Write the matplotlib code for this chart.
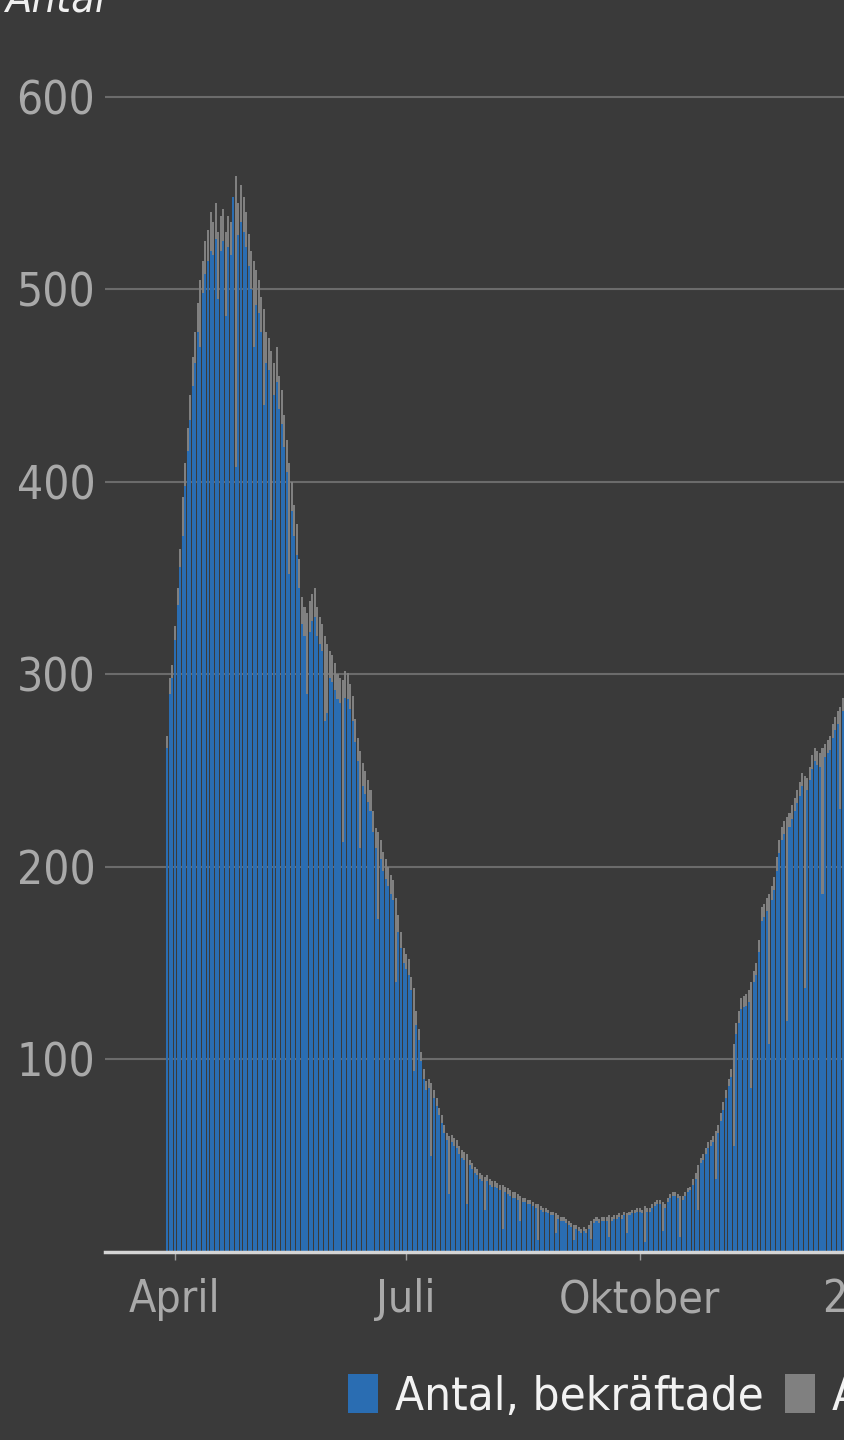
"""Daily counts, confirmed vs. remaining, dark theme bar chart.

Produces out.png (844x1440).
"""

import matplotlib
matplotlib.use("Agg")
import matplotlib.pyplot as plt
import matplotlib.dates as mdates
from matplotlib.patches import Patch
import pandas as pd

START_DATE = "2020-03-29"

# total per day (top of grey)
totalt = [
    268, 298, 305, 325, 345, 365, 392, 410, 428, 445,
    465, 478, 493, 505, 515, 525, 531, 540, 535, 545,
    530, 538, 542, 530, 538, 535, 548, 559, 545, 554,
    548, 540, 529, 520, 515, 510, 505, 496, 490, 478,
    475, 468, 462, 470, 455, 448, 435, 422, 410, 400,
    388, 378, 360, 340, 335, 332, 338, 342, 345, 335,
    330, 326, 320, 316, 312, 310, 306, 300, 298, 297,
    302, 301, 295, 289, 277, 267, 260, 254, 250, 245,
    240, 229, 220, 218, 214, 208, 204, 200, 196, 193,
    184, 175, 166, 158, 155, 152, 143, 137, 125, 116,
    104, 95, 89, 90, 88, 84, 80, 75, 71, 66,
    62, 60, 61, 59, 58, 55, 53, 52, 51, 48,
    46, 44, 43, 41, 40, 39, 40, 38, 37, 37,
    36, 35, 35, 34, 33, 32, 31, 31, 30, 29,
    28, 28, 27, 27, 26, 25, 25, 24, 23, 23,
    22, 21, 21, 20, 19, 18, 18, 17, 16, 15,
    14, 14, 13, 12, 13, 12, 14, 16, 17, 18,
    17, 18, 18, 18, 19, 18, 19, 19, 20, 19,
    21, 20, 21, 22, 22, 23, 23, 22, 24, 23,
    23, 25, 26, 27, 27, 26, 25, 28, 30, 31,
    31, 30, 29, 29, 31, 33, 34, 38, 41, 45,
    49, 51, 54, 57, 58, 60, 63, 66, 72, 78,
    84, 90, 95, 108, 119, 125, 132, 133, 134, 136,
    140, 146, 150, 162, 179, 181, 184, 186, 190, 195,
    205, 214, 221, 224, 226, 228, 232, 236, 240, 244,
    249, 247, 246, 252, 258, 262, 260, 259, 262, 264,
    266, 268, 274, 278, 281, 283, 288, 292,
]

# confirmed per day (blue part)
bekraftade = [
    262, 290, 298, 318, 336, 356, 372, 398, 416, 432,
    450, 462, 478, 470, 498, 508, 515, 520, 518, 526,
    495, 520, 525, 486, 522, 518, 548, 408, 528, 535,
    530, 522, 512, 500, 470, 492, 488, 478, 440, 462,
    458, 380, 445, 452, 438, 430, 418, 405, 352, 385,
    372, 362, 345, 326, 320, 290, 322, 328, 330, 320,
    316, 312, 276, 280, 298, 296, 292, 287, 285, 213,
    288, 287, 282, 276, 265, 255, 210, 242, 238, 234,
    229, 218, 210, 173, 204, 198, 194, 190, 186, 183,
    140, 166, 158, 150, 147, 144, 136, 94, 118, 110,
    99, 90, 84, 85, 50, 80, 76, 71, 67, 62,
    58, 30, 57, 55, 54, 51, 49, 48, 25, 45,
    43, 41, 40, 38, 37, 22, 37, 35, 34, 34,
    33, 32, 12, 31, 30, 29, 28, 28, 27, 16,
    26, 26, 25, 25, 24, 23, 6, 22, 21, 21,
    20, 19, 19, 10, 17, 16, 16, 15, 14, 13,
    6, 12, 11, 10, 11, 10, 12, 7, 15, 16,
    15, 16, 16, 16, 8, 16, 17, 17, 18, 17,
    19, 10, 19, 20, 20, 21, 21, 20, 5, 21,
    21, 23, 24, 25, 25, 11, 23, 26, 28, 29,
    29, 28, 8, 27, 29, 31, 32, 35, 38, 22,
    46, 48, 51, 54, 55, 57, 38, 62, 68, 74,
    80, 86, 91, 55, 113, 119, 126, 127, 128, 130,
    85, 140, 144, 156, 172, 174, 177, 108, 183, 188,
    198, 207, 214, 217, 120, 221, 225, 229, 233, 237,
    242, 137, 240, 245, 251, 255, 253, 252, 186, 257,
    259, 261, 267, 271, 274, 230, 281, 285,
]

tick_dates = ["2020-04-01", "2020-07-01", "2020-10-01", "2021-01-01"]
tick_labels = ["April", "Juli", "Oktober", "2021"]
y_ticks = [100, 200, 300, 400, 500, 600]
series_labels = ["Antal, bekräftade", "Antal, misstänkta"]

BG = "#3a3a3a"
BLUE = "#2a6db2"
GREY = "#808080"
GRID = "#6b6b6b"
TICK_TXT = "#a9a9a9"

# condensed face, closer to the narrow font of the original
plt.rcParams["font.family"] = ["DejaVu Sans"]
plt.rcParams["font.stretch"] = "condensed"


def main():
    dates = pd.date_range(START_DATE, periods=len(totalt), freq="D")
    x = mdates.date2num(dates.to_pydatetime())

    fig = plt.figure(figsize=(8.44, 14.4), dpi=100, facecolor=BG)
    ax = fig.add_axes([105 / 844, 188 / 1440, 847 / 844, 1184 / 1440])
    ax.set_facecolor(BG)

    # grey = total, blue drawn over it
    ax.bar(x, totalt, width=0.8, color=GREY, linewidth=0, zorder=2)
    ax.bar(x, bekraftade, width=0.8, color=BLUE, linewidth=0, zorder=3)

    apr1 = mdates.date2num(pd.Timestamp("2020-04-01"))
    ax.set_xlim(apr1 - 27.56, apr1 + 306)
    ax.set_ylim(0, 615)

    ax.set_yticks(y_ticks)
    ax.yaxis.grid(True, color=GRID, linewidth=1.5, zorder=0)
    ax.set_axisbelow(True)
    ax.tick_params(axis="y", length=0, pad=7, labelsize=33, labelcolor=TICK_TXT)

    ax.set_xticks(mdates.date2num(pd.to_datetime(tick_dates).to_pydatetime()))
    ax.set_xticklabels(tick_labels)
    ax.tick_params(axis="x", length=6, width=1, color="#9a9a9a", pad=13,
                   labelsize=32, labelcolor=TICK_TXT)

    for side in ["top", "right", "left"]:
        ax.spines[side].set_visible(False)
    ax.spines["bottom"].set_color("#d4d4d4")
    ax.spines["bottom"].set_linewidth(2.5)
    ax.spines["bottom"].set_zorder(4)

    # y axis title, cut at the top edge
    fig.text(5 / 844, 1 - 12 / 1440, "Antal", color="#f0f0f0", fontsize=31,
             style="italic", va="baseline", ha="left")

    handles = [Patch(facecolor=BLUE, edgecolor="none"), Patch(facecolor=GREY, edgecolor="none")]
    fig.legend(handles, series_labels, loc="center left",
               bbox_to_anchor=(348 / 844, 43 / 1440), ncol=2, frameon=False,
               fontsize=34, labelcolor="#f2f2f2", handlelength=0.64, handleheight=0.9,
               handletextpad=0.36, columnspacing=0.45, borderpad=0, borderaxespad=0)

    fig.savefig("out.png", dpi=100, facecolor=BG)
    plt.close(fig)


if __name__ == "__main__":
    main()
